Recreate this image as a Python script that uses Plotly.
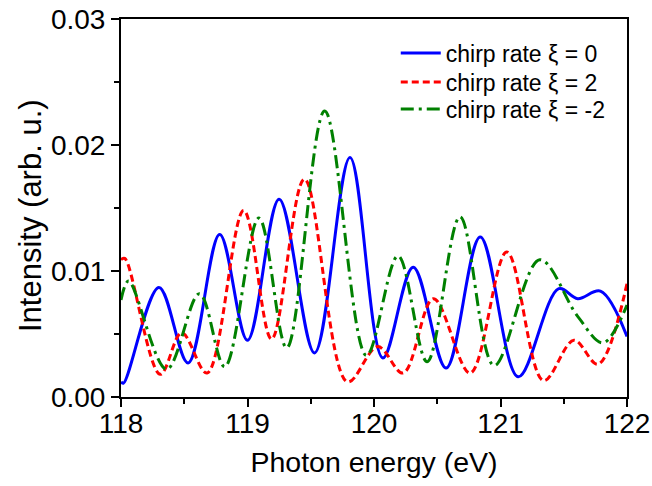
import plotly.graph_objects as go

# chirp rate xi = 0 (blue, solid)
blue_x = [118.00, 118.02, 118.30, 118.53, 118.78, 119.00, 119.25, 119.53, 119.81,
          120.07, 120.31, 120.57, 120.84, 121.14, 121.46, 121.61, 121.79, 122.00]
blue_y = [0.0012, 0.0011, 0.0087, 0.0027, 0.0129, 0.0045, 0.0157, 0.0035, 0.0190,
          0.0031, 0.0103, 0.0023, 0.0127, 0.0016, 0.0086, 0.0078, 0.0084, 0.0048]

# chirp rate xi = 2 (red, dashed)
red_x = [118.00, 118.03, 118.31, 118.48, 118.68, 118.97, 119.19, 119.45, 119.79,
         120.03, 120.23, 120.47, 120.76, 121.05, 121.34, 121.58, 121.77, 122.00]
red_y = [0.0109, 0.0110, 0.0018, 0.0051, 0.0019, 0.0148, 0.0046, 0.0173, 0.0012,
         0.0040, 0.0019, 0.0078, 0.0019, 0.0115, 0.0013, 0.0045, 0.0026, 0.0090]

# chirp rate xi = -2 (green, dash-dot)
green_x = [118.00, 118.06, 118.36, 118.62, 118.82, 119.09, 119.31, 119.61, 119.94,
           120.19, 120.42, 120.68, 120.95, 121.31, 121.61, 121.81, 122.00]
green_y = [0.0077, 0.0092, 0.0022, 0.0082, 0.0024, 0.0142, 0.0039, 0.0227, 0.0033,
           0.0112, 0.0028, 0.0143, 0.0025, 0.0109, 0.0064, 0.0043, 0.0073]

series_names = ["chirp rate \u03be = 0", "chirp rate \u03be = 2", "chirp rate \u03be = -2"]

x_ticks = [118, 119, 120, 121, 122]
y_ticks = [0.00, 0.01, 0.02, 0.03]

FONT = "Liberation Sans, Arial, sans-serif"

fig = go.Figure()
fig.add_trace(go.Scatter(x=blue_x, y=blue_y, mode="lines", name=series_names[0], legend="legend",
                         line=dict(color="#0000ff", width=3, shape="spline", smoothing=1.0)))
fig.add_trace(go.Scatter(x=red_x, y=red_y, mode="lines", name=series_names[1], legend="legend2",
                         line=dict(color="#ff0000", width=3, dash="7px,4px", shape="spline", smoothing=1.0)))
fig.add_trace(go.Scatter(x=green_x, y=green_y, mode="lines", name=series_names[2], legend="legend3",
                         line=dict(color="#008000", width=3, dash="13px,5px,3px,5px", shape="spline", smoothing=1.0)))

axis_common = dict(
    showgrid=False, zeroline=False, showline=True, linecolor="black", linewidth=2,
    mirror=True, ticks="outside", ticklen=8, tickwidth=2, tickcolor="black",
    automargin=False,
    tickfont=dict(family=FONT, size=28, color="black"),
)

def legend_at(y):
    return dict(x=0.543, y=y, xanchor="left", yanchor="middle",
                bgcolor="rgba(0,0,0,0)", borderwidth=0,
                font=dict(family=FONT, size=23, color="black"), itemwidth=40)

fig.update_layout(
    width=652, height=486,
    margin=dict(l=121, r=25, t=19, b=89),
    paper_bgcolor="white", plot_bgcolor="white",
    font=dict(family=FONT, color="black"),
    showlegend=True,
    legend=legend_at(0.91),
    legend2=legend_at(0.833),
    legend3=legend_at(0.762),
    xaxis=dict(range=[118, 122], tickvals=x_ticks, ticktext=[str(v) for v in x_ticks],
               ticklabelstandoff=-8,
               minor=dict(dtick=0.5, ticks="outside", ticklen=5, tickwidth=1.5, tickcolor="black"),
               title=dict(text="Photon energy (eV)", font=dict(family=FONT, size=28.5, color="black"), standoff=14),
               **axis_common),
    yaxis=dict(range=[0, 0.03], tickvals=y_ticks, tickformat=".2f",
               minor=dict(dtick=0.005, ticks="outside", ticklen=5, tickwidth=1.5, tickcolor="black"),
               **axis_common),
    annotations=[dict(text="Intensity (arb. u.)", textangle=-90, showarrow=False,
                      xref="paper", yref="paper", x=0, y=0.5, xanchor="center", yanchor="middle",
                      xshift=-91, yshift=-8,
                      font=dict(family=FONT, size=31, color="black"))],
)

fig.write_html("out.html", config={"displayModeBar": False},
               post_script="document.body.style.margin='0px';")
